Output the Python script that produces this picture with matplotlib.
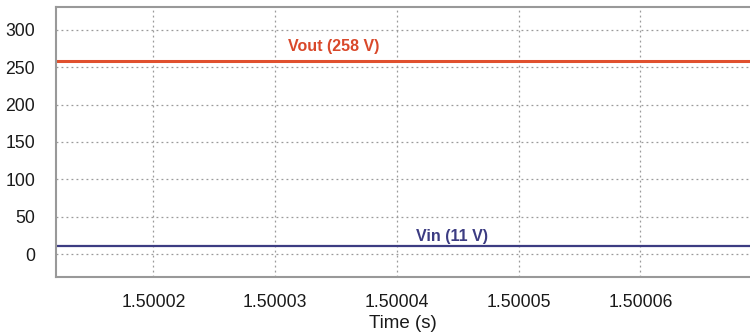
import matplotlib.pyplot as plt
import numpy as np

plt.rcParams['font.family'] = ['Liberation Sans', 'DejaVu Sans']

# waveform data (steady state)
time_s = [1.500012, 1.500069]
vout = [258, 258]
vin = [11, 11]
xticks = [1.50002, 1.50003, 1.50004, 1.50005, 1.50006]
xtick_labels = ['1.50002', '1.50003', '1.50004', '1.50005', '1.50006']
yticks = [0, 50, 100, 150, 200, 250, 300]

fig = plt.figure(figsize=(7.5, 3.35), dpi=100)
ax = fig.add_axes([56 / 750, 1 - 277 / 335, 1 - 56 / 750, (277 - 6.5) / 335])

ax.plot(time_s, vout, color='#e0502e', lw=2.2)
ax.plot(time_s, vin, color='#3c3c82', lw=1.6)

ax.text(1.5000348, 277, 'Vout (258 V)', color='#d9482a', fontsize=11.5,
        fontweight='bold', ha='center', va='center')
ax.text(1.5000445, 24, 'Vin (11 V)', color='#3c3c82', fontsize=11.5,
        fontweight='bold', ha='center', va='center')

ax.set_xlim(time_s[0], time_s[1])
ax.set_ylim(-30.5, 331)
ax.set_xticks(xticks)
ax.set_xticklabels(xtick_labels)
ax.set_yticks(yticks)
ax.tick_params(length=0, labelsize=12.7, colors='#1a1a1a')
ax.tick_params(axis='y', pad=15)
ax.tick_params(axis='x', pad=12)
ax.grid(True, linestyle=(0, (1.5, 2.5)), color='#9a9a9a', lw=0.9)
ax.set_xlabel('Time (s)', fontsize=13.5, color='#1a1a1a', labelpad=3)

for side in ['left', 'bottom', 'top']:
    ax.spines[side].set_color('#999999')
    ax.spines[side].set_linewidth(1.5)
ax.spines['right'].set_visible(False)

fig.savefig('out.png', dpi=100)
